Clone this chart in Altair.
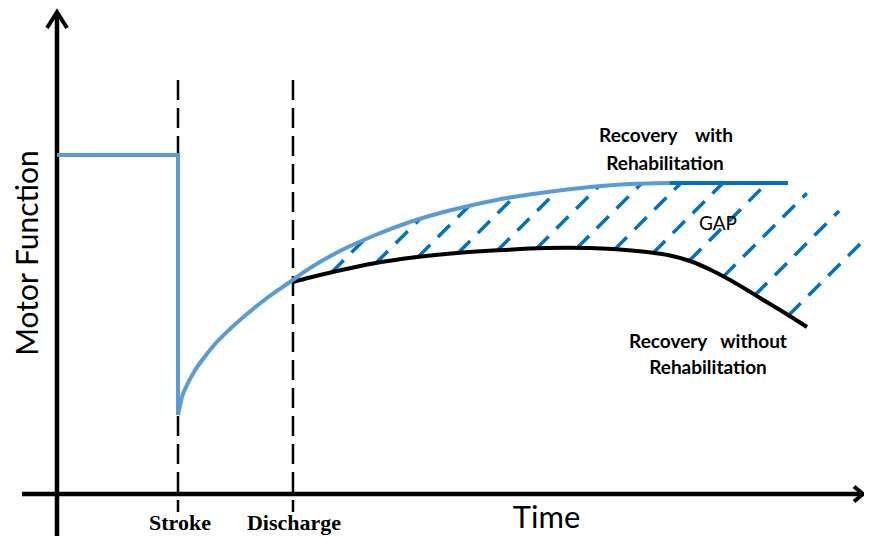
import altair as alt
import pandas as pd
import numpy as np

# ---- schematic values (time / motor function, arbitrary units) ----
event_names = ["Stroke", "Discharge"]
event_t = [12.1, 23.6]
event_label_t = [12.3, 23.7]
event_label_f = [-3.6, -3.6]
event_top_f = 41.4
event_bottom_f = -1.8

pre_t = [0.0, 12.1, 12.1]
pre_f = [33.9, 33.9, 7.9]

rehab_t = [12.1, 12.5, 13.0, 13.7, 14.6, 15.8, 17.3, 19.0, 21.0, 23.0, 25.3,
           28.3, 31.6, 35.0, 38.3, 41.6, 45.0, 48.3, 53.3, 57.3, 61.3]
rehab_f = [7.9, 9.7, 10.9, 12.2, 13.5, 15.0, 16.5, 18.0, 19.6, 21.0, 22.6,
           24.3, 25.8, 27.1, 28.1, 28.9, 29.6, 30.1, 30.7, 31.0, 31.1]

plateau_t = [61.3, 73.1]
plateau_f = [31.1, 31.1]

norehab_t = [23.6, 25.3, 27.6, 31.6, 36.0, 40.0, 44.6, 48.8, 53.3, 55.6, 59.0,
             61.3, 63.3, 65.6, 68.0, 70.3, 72.3, 73.6, 75.0]
norehab_f = [21.2, 21.65, 22.2, 23.05, 23.7, 24.1, 24.4, 24.6, 24.6, 24.5, 24.2,
             23.85, 23.3, 22.3, 21.0, 19.6, 18.4, 17.6, 16.7]

# right-hand edge of the hatched "gap" region beyond the plateau
gap_edge_t = [73.1, 85.0]
gap_edge_f = [31.1, 24.6]

# hatch lines: 45-degree lines  t - f = d
hatch_d = [5.3, 8.8, 12.4, 16.0, 19.7, 23.4, 27.4, 31.3, 35.5, 39.9, 44.9, 49.9, 55.3]

# axes (with arrow heads)
x_axis_t = [-3.5, 80.6]
y_axis_f = [-4.2, 48.2]
x_arrow_t = [79.7, 80.6, 79.7]
x_arrow_f = [0.75, 0.0, -0.75]
y_arrow_t = [-1.0, 0.0, 1.0]
y_arrow_f = [46.6, 48.2, 46.6]

NB = "\u00a0"
curve_labels = ["Recovery" + NB * 4 + "with", "Rehabilitation",
                "Recovery" + NB * 3 + "without", "Rehabilitation"]
curve_label_t = [60.9, 60.8, 65.1, 65.1]
curve_label_f = [35.2, 32.4, 14.6, 12.0]

gap_label = ["GAP"]
gap_label_t = [66.1]
gap_label_f = [26.4]

time_label_t = [48.95]
time_label_f = [-3.4]

# ---- helpers ----
def crossing(ts, fs, d):
    ts = np.asarray(ts, float)
    fs = np.asarray(fs, float)
    g = ts - fs - d
    for i in range(len(g) - 1):
        if (g[i] <= 0 <= g[i + 1]) or (g[i] >= 0 >= g[i + 1]):
            a = g[i] / (g[i] - g[i + 1]) if g[i] != g[i + 1] else 0.0
            return ts[i] + a * (ts[i + 1] - ts[i]), fs[i] + a * (fs[i + 1] - fs[i])
    return None

discharge_t = event_t[1]
ut, uf = [], []
for t, f in zip(rehab_t, rehab_f):
    if t >= discharge_t:
        ut.append(t)
        uf.append(f)
ut += plateau_t[1:] + gap_edge_t[1:]
uf += plateau_f[1:] + gap_edge_f[1:]

rows = []
for d in hatch_d:
    lo = crossing(norehab_t, norehab_f, d)
    hi = crossing(ut, uf, d)
    if lo and hi:
        rows.append({"t": lo[0], "f": lo[1], "t2": hi[0], "f2": hi[1]})
hatch_df = pd.DataFrame(rows)

X = alt.Scale(domain=[-4.9, 80.7], nice=False, zero=False)
Y = alt.Scale(domain=[-4.2, 48.6], nice=False, zero=False)

def xe(field="t"):
    return alt.X(f"{field}:Q", scale=X, axis=None)

def ye(field="f"):
    return alt.Y(f"{field}:Q", scale=Y, axis=None)

BLACK = "#000000"
LIGHT = "#5B9BD5"
DARK = "#0070C0"

# axes
xaxis = alt.Chart(pd.DataFrame({"t": [x_axis_t[0]], "t2": [x_axis_t[1]], "f": [0.0]})).mark_rule(
    color=BLACK, strokeWidth=4.5).encode(x=xe(), x2="t2:Q", y=ye())
yaxis = alt.Chart(pd.DataFrame({"t": [0.0], "f": [y_axis_f[0]], "f2": [y_axis_f[1]]})).mark_rule(
    color=BLACK, strokeWidth=4.5).encode(x=xe(), y=ye(), y2="f2:Q")
arrows_df = pd.DataFrame({
    "t": x_arrow_t + y_arrow_t,
    "f": x_arrow_f + y_arrow_f,
    "k": ["x"] * 3 + ["y"] * 3,
    "o": [0, 1, 2, 0, 1, 2],
})
arrows = alt.Chart(arrows_df).mark_line(color=BLACK, strokeWidth=4, strokeJoin="miter").encode(
    x=xe(), y=ye(), detail="k:N", order="o:Q")

# event dashed lines
ev_df = pd.DataFrame({"t": event_t, "f": [event_top_f] * 2, "f2": [event_bottom_f] * 2})
events = alt.Chart(ev_df).mark_rule(color=BLACK, strokeWidth=2.5, strokeDash=[20, 8]).encode(
    x=xe(), y=ye(), y2="f2:Q")

# hatch
hatch = alt.Chart(hatch_df).mark_rule(color=DARK, strokeWidth=3.5, strokeDash=[17, 11]).encode(
    x=xe(), y=ye(), x2="t2:Q", y2="f2:Q")

# curves
norehab = alt.Chart(pd.DataFrame({"t": norehab_t, "f": norehab_f})).mark_line(
    color=BLACK, strokeWidth=4, interpolate="catmull-rom").encode(x=xe(), y=ye())
pre = alt.Chart(pd.DataFrame({"t": pre_t, "f": pre_f, "o": [0, 1, 2]})).mark_line(
    color=LIGHT, strokeWidth=4, strokeJoin="miter").encode(x=xe(), y=ye(), order="o:Q")
rehab = alt.Chart(pd.DataFrame({"t": rehab_t, "f": rehab_f})).mark_line(
    color=LIGHT, strokeWidth=4, interpolate="monotone").encode(x=xe(), y=ye())
plateau = alt.Chart(pd.DataFrame({"t": plateau_t, "f": plateau_f})).mark_line(
    color=DARK, strokeWidth=4).encode(x=xe(), y=ye())

# texts
curve_txt = alt.Chart(pd.DataFrame({"t": curve_label_t, "f": curve_label_f, "s": curve_labels})).mark_text(
    font="Lato", fontSize=19, fontWeight="bold", align="center", baseline="alphabetic", color=BLACK
).encode(x=xe(), y=ye(), text="s:N")
gap_txt = alt.Chart(pd.DataFrame({"t": gap_label_t, "f": gap_label_f, "s": gap_label})).mark_text(
    font="Lato", fontSize=19, align="center", baseline="alphabetic", color=BLACK
).encode(x=xe(), y=ye(), text="s:N")
ev_txt = alt.Chart(pd.DataFrame({"t": event_label_t, "f": event_label_f, "s": event_names})).mark_text(
    font="Liberation Serif", fontSize=22, fontWeight="bold", align="center", baseline="alphabetic", color=BLACK
).encode(x=xe(), y=ye(), text="s:N")
time_txt = alt.Chart(pd.DataFrame({"t": time_label_t, "f": time_label_f, "s": ["Time"]})).mark_text(
    font="Lato", fontSize=31, align="center", baseline="alphabetic", color=BLACK
).encode(x=xe(), y=ye(), text="s:N")
mf_txt = alt.Chart(pd.DataFrame({"t": [-1.9], "f": [24.1], "s": ["Motor Function"]})).mark_text(
    font="Lato", fontSize=30, align="center", baseline="alphabetic", angle=270, color=BLACK
).encode(x=xe(), y=ye(), text="s:N")

chart = alt.layer(
    events, hatch, xaxis, yaxis, arrows, norehab, pre, rehab, plateau,
    curve_txt, gap_txt, ev_txt, time_txt, mf_txt
).properties(
    width=856, height=528,
    autosize=alt.AutoSizeParams(type="none"), padding=0,
).configure_view(stroke=None)

chart.save("out.html", embed_options={"renderer": "svg", "actions": False})
